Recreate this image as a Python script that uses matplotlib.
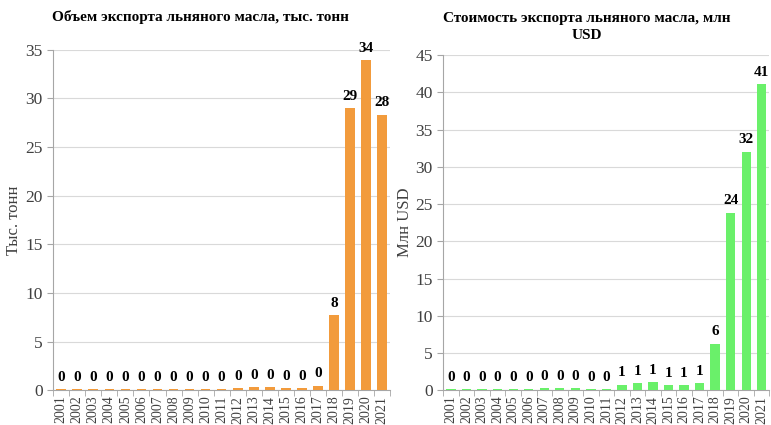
import numpy as np
import matplotlib.pyplot as plt

plt.rcParams['font.family'] = ['Liberation Serif', 'DejaVu Serif']

years = list(range(2001, 2022))

# Объем экспорта, тыс. тонн
volume = [0.1, 0.1, 0.1, 0.1, 0.1, 0.1, 0.1, 0.1, 0.1, 0.1, 0.1,
          0.2, 0.3, 0.3, 0.2, 0.2, 0.45, 7.7, 29.0, 33.9, 28.3]

# Стоимость экспорта, млн USD
value = [0.1, 0.1, 0.1, 0.1, 0.1, 0.1, 0.25, 0.25, 0.25, 0.1, 0.1,
         0.75, 0.95, 1.05, 0.65, 0.65, 0.95, 6.2, 23.8, 32.0, 41.1]


def bar_panel(ax, data, color, ymax, ylabel, label_x):
    x = np.arange(len(years))
    bars = ax.bar(x, data, width=0.6, color=color, zorder=3)

    for rect, v in zip(bars, data):
        ax.annotate(f"{v:.0f}", (rect.get_x() + rect.get_width() / 2, rect.get_height()),
                    xytext=(0, 4), textcoords='offset points', ha='center', va='bottom',
                    fontsize=11, fontweight='bold', color='black')

    ax.set_xlim(-0.5, len(years) - 0.5)
    ax.set_ylim(0, ymax)
    ax.set_yticks(np.arange(0, ymax + 1, 5))
    ax.yaxis.grid(True, color='#d9d9d9', linewidth=0.8, zorder=0)

    # подписи годов по центру, засечки между столбцами
    ax.set_xticks(x)
    ax.set_xticklabels([str(y) for y in years], rotation=90)
    ax.set_xticks(np.arange(-0.5, len(years)), minor=True)
    ax.tick_params(axis='x', which='major', length=0, labelsize=10, colors='#404040', pad=4)
    ax.tick_params(axis='x', which='minor', length=4, color='#a6a6a6')
    ax.tick_params(axis='y', length=4, color='#a6a6a6', labelsize=12.5, colors='#404040')

    for s in ['top', 'right']:
        ax.spines[s].set_visible(False)
    for s in ['left', 'bottom']:
        ax.spines[s].set_color('#a6a6a6')

    ax.set_ylabel(ylabel, fontsize=12, color='#404040')
    ax.yaxis.set_label_coords(label_x, 0.5)


fig = plt.figure(figsize=(7.71, 4.25), dpi=100)

ax1 = fig.add_axes([0.069, 0.082, 0.437, 0.801])
bar_panel(ax1, volume, '#f29b3c', 35, 'Тыс. тонн', -0.092)

ax2 = fig.add_axes([0.575, 0.082, 0.423, 0.788])
bar_panel(ax2, value, '#6af06a', 45, 'Млн USD', -0.094)

fig.text(200 / 771, 1 - 17 / 425, 'Объем экспорта льняного масла, тыс. тонн',
         ha='center', va='center', fontsize=11, fontweight='bold')
fig.text(587 / 771, 1 - 27 / 425, 'Стоимость экспорта льняного масла, млн\nUSD',
         ha='center', va='center', fontsize=11, fontweight='bold', linespacing=1.35)

fig.savefig('out.png', dpi=100)
